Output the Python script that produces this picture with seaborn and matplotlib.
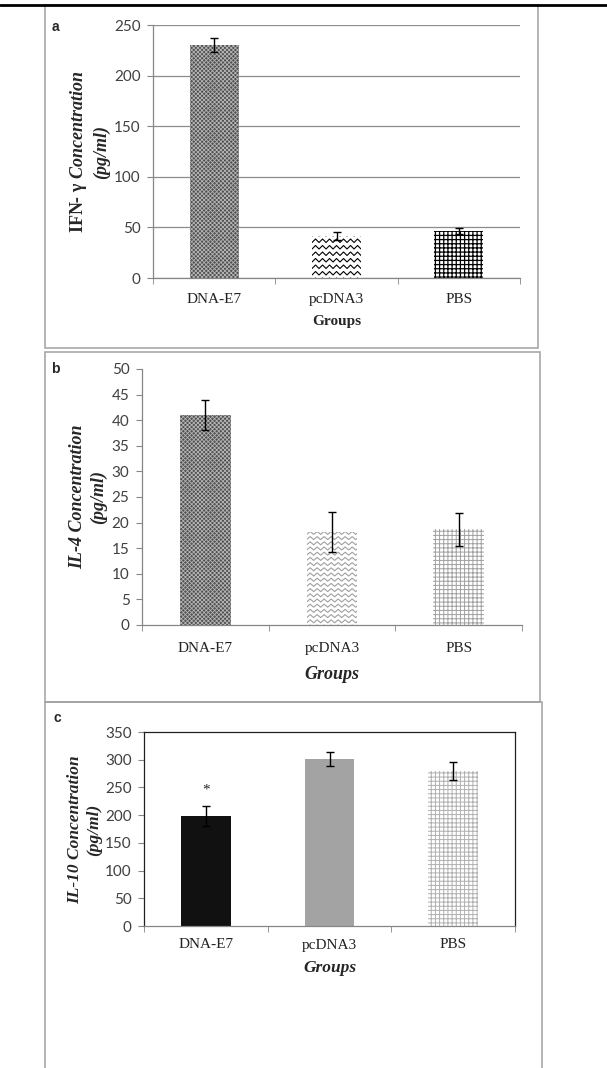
import matplotlib
matplotlib.use("Agg")
import matplotlib.pyplot as plt
import numpy as np
import pandas as pd
import seaborn as sns
from matplotlib.patches import Rectangle
from matplotlib.lines import Line2D

# data
groups = ["DNA-E7", "pcDNA3", "PBS"]

ifng_mean = [230, 41.5, 46]
ifng_err = [7, 3.5, 3]

il4_mean = [41, 18.2, 18.7]
il4_err = [3, 3.9, 3.2]

il10_mean = [199, 301, 280]
il10_err = [18, 13, 16]
il10_marks = ["*", "", ""]

sns.set_style("white")
plt.rcParams["font.family"] = ["Liberation Serif", "DejaVu Sans"]
plt.rcParams["mathtext.fontset"] = "custom"
plt.rcParams["mathtext.rm"] = "Liberation Serif"
plt.rcParams["mathtext.bf"] = "Liberation Serif:bold"
plt.rcParams["hatch.linewidth"] = 0.7

W, H = 607, 1068
fig = plt.figure(figsize=(W / 100, H / 100), dpi=100)


def fx(px):
	return px / W


def fy(py):
	return 1 - py / H


def add_axes(left, top, right, bottom):
	return fig.add_axes([fx(left), fy(bottom), (right - left) / W, (bottom - top) / H])


def panel_box(x0, y0, x1, y1):
	fig.add_artist(Rectangle((fx(x0), fy(y1)), (x1 - x0) / W, (y1 - y0) / H,
		fill=False, ec="#a0a0a0", lw=1.1, transform=fig.transFigure))


def zigzag(ax, bar, row_px, period_px, amp_px, color, lw=0.8):
	x0, y0 = bar.get_x(), bar.get_y()
	x1, y1 = x0 + bar.get_width(), y0 + bar.get_height()
	(px0, py0), (px1, py1) = ax.transData.transform([(x0, y0), (x1, y1)])
	inv = ax.transData.inverted()
	xs = np.arange(px0 - period_px, px1 + period_px, period_px / 2)
	offs = np.where(np.arange(len(xs)) % 2 == 0, 0, amp_px)
	for base in np.arange(py0 - amp_px, py1 + row_px, row_px):
		pts = inv.transform(np.column_stack([xs, base + offs]))
		ln, = ax.plot(pts[:, 0], pts[:, 1], color=color, lw=lw)
		ln.set_clip_path(bar)


def draw_panel(ax, means, errs, ymax, step, styles, grid=False, box=False, italic=True,
		tick_pad=8, xlabel_size=10.5, xlabel_pad=6):
	df = pd.DataFrame({"group": groups, "value": means})
	sns.barplot(data=df, x="group", y="value", color="white", width=0.4, errorbar=None, ax=ax)
	ax.set_xlim(-0.5, 2.5)
	ax.set_ylim(0, ymax)
	ax.set_autoscale_on(False)
	ax.set_yticks(np.arange(0, ymax + step / 2, step))
	for bar, st in zip(ax.patches, styles):
		bar.set_facecolor(st.get("fc", "white"))
		bar.set_linewidth(0)
		if "hatch" in st:
			bar.set_edgecolor(st["hc"])
			bar.set_hatch(st["hatch"])
			if hasattr(bar, "set_hatch_linewidth"):
				bar.set_hatch_linewidth(st.get("hlw", 0.7))
		if "zig" in st:
			zigzag(ax, bar, *st["zig"])
	ax.errorbar(range(len(groups)), means, yerr=errs, fmt="none", ecolor="black",
		elinewidth=1, capsize=3, capthick=1, zorder=5)

	for s in ax.spines.values():
		s.set_color("#868686")
		s.set_linewidth(0.9)
	if box:
		for side in ["top", "right", "left"]:
			ax.spines[side].set_color("#202020")
	else:
		ax.spines["top"].set_visible(False)
		ax.spines["right"].set_visible(False)
	if grid:
		ax.yaxis.grid(True, color="#8c8c8c", lw=0.9)
		ax.set_axisbelow(True)

	ax.set_xticks([-0.5, 0.5, 1.5, 2.5], minor=True)
	ax.tick_params(axis="x", which="major", length=0, pad=tick_pad, labelsize=11, labelcolor="#222222")
	ax.tick_params(axis="x", which="minor", length=4, color="#868686", direction="out", bottom=True)
	ax.tick_params(axis="y", length=4, color="#868686", direction="out", left=True,
		labelsize=11, labelcolor="#404040", labelfontfamily="Lato", pad=5)
	ax.set_ylabel("")
	ax.set_xlabel("Groups", fontsize=xlabel_size, fontweight="bold",
		fontstyle="italic" if italic else "normal", labelpad=xlabel_pad)


checker = {"fc": "#505050", "hatch": "xxxxxxxx", "hc": "#b4b4b4", "hlw": 0.6}

# panel a
panel_box(45, 5, 538, 348)
ax_a = add_axes(153, 25, 520, 278)
draw_panel(ax_a, ifng_mean, ifng_err, 250, 50, [
	checker,
	{"fc": "white", "zig": (6.5, 7, 3.5, "black", 0.8)},
	{"fc": "white", "hatch": "++++", "hc": "black", "hlw": 0.9},
], grid=True, italic=False, tick_pad=11, xlabel_size=11, xlabel_pad=6)
fig.text(fx(89), fy(152), "$\\mathbf{IFN}$- $\\mathbf{\\gamma}$ Concentration\n(pg/ml)", rotation=90,
	ha="center", va="center", fontsize=13, fontweight="bold", fontstyle="italic", linespacing=1.3)
fig.text(fx(55), fy(27), "a", fontsize=10, fontweight="bold", family="Liberation Sans",
	ha="center", va="center")

# panel b
panel_box(45, 352, 540, 702)
ax_b = add_axes(142, 369, 522, 625)
draw_panel(ax_b, il4_mean, il4_err, 50, 5, [
	checker,
	{"fc": "white", "zig": (5.2, 7, 3, "#a0a0a0", 0.8)},
	{"fc": "white", "hatch": "++++", "hc": "#a0a0a0", "hlw": 0.7},
], tick_pad=12, xlabel_size=13, xlabel_pad=8)
fig.text(fx(88), fy(497), "IL-4 Concentration\n(pg/ml)", rotation=90, ha="center", va="center",
	fontsize=13, fontweight="bold", fontstyle="italic", linespacing=1.3)
fig.text(fx(55), fy(369), "b", fontsize=10, fontweight="bold", family="Liberation Sans",
	ha="center", va="center")

# panel c
panel_box(45, 702, 542, 1075)
ax_c = add_axes(144, 732, 515, 926)
draw_panel(ax_c, il10_mean, il10_err, 350, 50, [
	{"fc": "#111111"},
	{"fc": "#a3a3a3"},
	{"fc": "white", "hatch": "++++", "hc": "#b0b0b0", "hlw": 0.7},
], box=True, tick_pad=9, xlabel_size=12.5, xlabel_pad=6)
for i, (m, e, mark) in enumerate(zip(il10_mean, il10_err, il10_marks)):
	if mark:
		ax_c.text(i, m + e + 28, mark, ha="center", va="center", fontsize=11)
fig.text(fx(85), fy(830), "IL-10 Concentration\n(pg/ml)", rotation=90, ha="center", va="center",
	fontsize=12.5, fontweight="bold", fontstyle="italic", linespacing=1.25)
fig.text(fx(57), fy(718), "c", fontsize=10, fontweight="bold", family="Liberation Sans",
	ha="center", va="center")

# rule across the top
fig.add_artist(Line2D([0, 1], [fy(5), fy(5)], color="black", lw=2, transform=fig.transFigure))

fig.savefig("out.png", dpi=100)
